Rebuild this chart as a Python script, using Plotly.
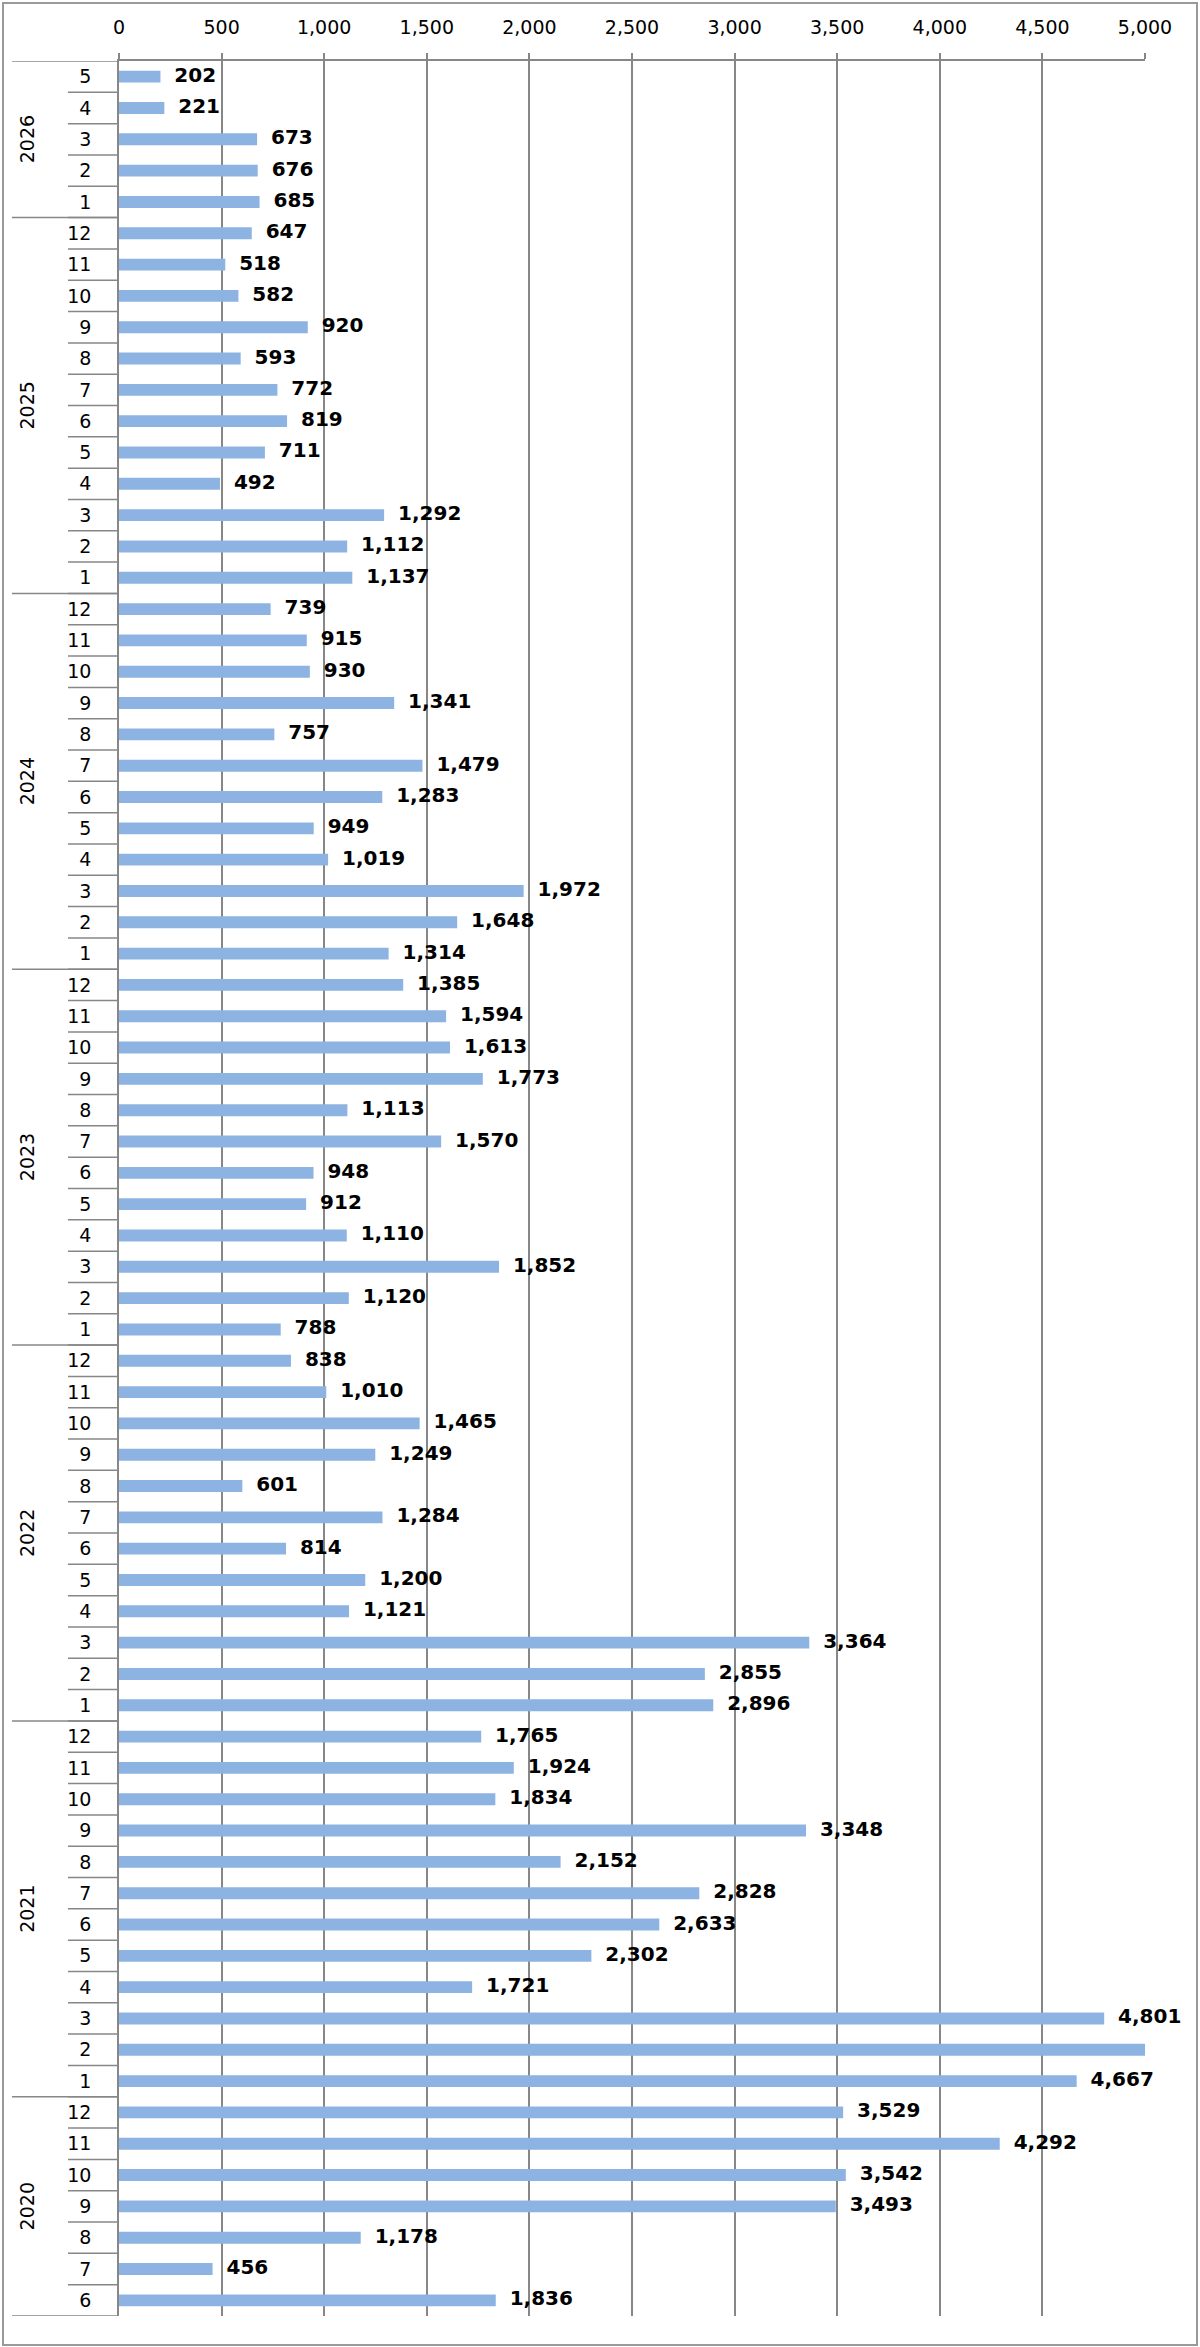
import plotly.graph_objects as go

# ---- data (top to bottom as shown) ----
years = ["2026", "2025", "2024", "2023", "2022", "2021", "2020"]
months_2026 = [5, 4, 3, 2, 1]
values_2026 = [202, 221, 673, 676, 685]
months_full = [12, 11, 10, 9, 8, 7, 6, 5, 4, 3, 2, 1]
values_2025 = [647, 518, 582, 920, 593, 772, 819, 711, 492, 1292, 1112, 1137]
values_2024 = [739, 915, 930, 1341, 757, 1479, 1283, 949, 1019, 1972, 1648, 1314]
values_2023 = [1385, 1594, 1613, 1773, 1113, 1570, 948, 912, 1110, 1852, 1120, 788]
values_2022 = [838, 1010, 1465, 1249, 601, 1284, 814, 1200, 1121, 3364, 2855, 2896]
values_2021 = [1765, 1924, 1834, 3348, 2152, 2828, 2633, 2302, 1721, 4801, 5300, 4667]
months_2020 = [12, 11, 10, 9, 8, 7, 6]
values_2020 = [3529, 4292, 3542, 3493, 1178, 456, 1836]

x_max = 5000
x_ticks = list(range(0, 5001, 500))

groups = [
    ("2026", months_2026, values_2026),
    ("2025", months_full, values_2025),
    ("2024", months_full, values_2024),
    ("2023", months_full, values_2023),
    ("2022", months_full, values_2022),
    ("2021", months_full, values_2021),
    ("2020", months_2020, values_2020),
]

cats, month_lbl, vals = [], [], []
year_spans = []
for yr, ms, vs in groups:
    start = len(cats)
    for m, v in zip(ms, vs):
        cats.append(f"{yr}-{m:02d}")
        month_lbl.append(str(m))
        vals.append(v)
    year_spans.append((yr, start, len(cats) - 1))

labels = ["\u00a0\u00a0" + f"{v:,}" if v <= x_max else "" for v in vals]

# ---- geometry helpers (pixel layout) ----
W, H = 1200, 2347
L, R, T, B = 119, 1145, 61, 2316
pw, ph = R - L, B - T
def px(x):
    return (x - L) / pw
def py(y):
    return (B - y) / ph

GRID = "#878787"
FONT = "DejaVu Sans, Verdana, sans-serif"

fig = go.Figure()
fig.add_trace(go.Bar(
    y=cats, x=vals, orientation="h", width=0.38,
    marker=dict(color="#8DB3E2", line=dict(width=0)),
    cliponaxis=True, hoverinfo="x+y",
))
fig.add_trace(go.Scatter(
    y=cats, x=vals, mode="text", text=labels, textposition="middle right",
    textfont=dict(family=FONT, size=20, color="#000000", weight="bold"),
    cliponaxis=False, hoverinfo="skip",
))

shapes = []
n = len(cats)
# month separators
for i in range(1, n):
    shapes.append(dict(type="line", xref="paper", yref="y",
                       x0=px(68), x1=0, y0=i - 0.5, y1=i - 0.5,
                       line=dict(color=GRID, width=1.5)))
# year separators
bounds = [s for _, s, _ in year_spans] + [n]
for b in bounds:
    shapes.append(dict(type="line", xref="paper", yref="y",
                       x0=px(12), x1=0, y0=b - 0.5, y1=b - 0.5,
                       line=dict(color=GRID, width=1.5)))
# outer border
shapes.append(dict(type="rect", xref="paper", yref="paper",
                   x0=px(3), x1=px(1197), y0=py(3), y1=py(2345),
                   line=dict(color="#9a9a9a", width=2), layer="below"))

annotations = []
for yr, s, e in year_spans:
    annotations.append(dict(xref="paper", yref="y", x=px(27), y=(s + e) / 2,
                            text=yr, textangle=-90, showarrow=False,
                            font=dict(family=FONT, size=19, color="#000000"),
                            xanchor="center", yanchor="middle"))

fig.update_layout(
    width=W, height=H,
    margin=dict(l=L, r=W - R, t=T, b=H - B, pad=0),
    paper_bgcolor="white", plot_bgcolor="white",
    showlegend=False,
    shapes=shapes, annotations=annotations,
    xaxis=dict(side="top", range=[0, x_max], tickvals=x_ticks,
               tickformat=",", showgrid=True, gridcolor=GRID, gridwidth=1.5,
               ticks="outside", ticklen=6, tickcolor=GRID, tickwidth=1.5,
               showline=True, linecolor=GRID, linewidth=1.5, zeroline=False,
               tickfont=dict(family=FONT, size=19, color="#000000"),
               ticklabelstandoff=12, fixedrange=True),
    yaxis=dict(type="category", categoryorder="array", categoryarray=cats,
               range=[n - 0.5, -0.5], tickvals=cats, ticktext=month_lbl,
               ticks="", showgrid=False, showline=True, linecolor=GRID,
               linewidth=1.5, zeroline=False,
               tickfont=dict(family=FONT, size=19, color="#000000"),
               ticklabelstandoff=22, fixedrange=True),
)

fig.write_html("out.html")
